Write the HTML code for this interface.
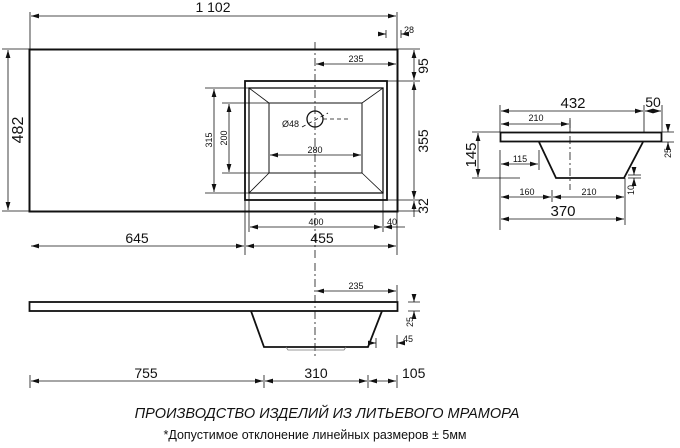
<!DOCTYPE html>
<html><head><meta charset="utf-8"><style>
html,body{margin:0;padding:0;background:#fff}
svg{display:block}
text{font-family:"Liberation Sans",sans-serif;fill:#111}
</style></head><body>
<svg width="680" height="448" viewBox="0 0 680 448" xmlns="http://www.w3.org/2000/svg">
<defs>
<marker id="a" viewBox="0 0 10 6" refX="10" refY="3" markerWidth="8" markerHeight="5" orient="auto-start-reverse" markerUnits="userSpaceOnUse"><path d="M0,0L10,3L0,6z" fill="#111"/></marker>
</defs>
<g stroke="#111" fill="none" stroke-width="0.8">
<rect x="29.5" y="49.5" width="368" height="162" stroke-width="2"/>
<rect x="245" y="81" width="142" height="119" stroke-width="1.8"/>
<rect x="249" y="88" width="134" height="105" stroke-width="1.3"/>
<rect x="269" y="103" width="93" height="70" stroke-width="1"/>
<path d="M249 88L269 103M383 88L362 103M249 193L269 173M383 193L362 173"/>
<circle cx="315" cy="119" r="8" stroke-width="1.3"/>
<path d="M302 127L328 113M323 119H348" stroke-dasharray="4 3"/>
<line x1="315" y1="42" x2="315" y2="260" stroke-dasharray="8 3 2 3"/>
<path d="M30 12V49M397 12V49M397 211V255M245 200V255M2 49H30M2 211H30M397 49H420M387 81H420M387 200H420M397 211H420"/>
<line x1="31" y1="16" x2="396" y2="16" marker-start="url(#a)" marker-end="url(#a)"/>
<path d="M386 30V38M401 30V38"/>
<line x1="380" y1="34" x2="386" y2="34" marker-end="url(#a)"/><line x1="407" y1="34" x2="401" y2="34" marker-end="url(#a)"/>
<line x1="8" y1="50" x2="8" y2="210" marker-start="url(#a)" marker-end="url(#a)"/>
<line x1="316" y1="64" x2="396" y2="64" marker-start="url(#a)" marker-end="url(#a)"/>
<line x1="414" y1="50" x2="414" y2="80" marker-start="url(#a)" marker-end="url(#a)"/>
<line x1="414" y1="82" x2="414" y2="199" marker-start="url(#a)" marker-end="url(#a)"/>
<line x1="414" y1="201" x2="414" y2="217" marker-start="url(#a)"/>
<path d="M205 88H249M205 193H249M222 103H269M222 173H269"/>
<line x1="214" y1="89" x2="214" y2="192" marker-start="url(#a)" marker-end="url(#a)"/>
<line x1="229" y1="104" x2="229" y2="172" marker-start="url(#a)" marker-end="url(#a)"/>
<line x1="270" y1="155" x2="361" y2="155" marker-start="url(#a)" marker-end="url(#a)"/>
<path d="M249 193V232M383 193V232"/>
<line x1="250" y1="227" x2="382" y2="227" marker-start="url(#a)" marker-end="url(#a)"/>
<line x1="384" y1="227" x2="405" y2="227" marker-start="url(#a)"/>
<line x1="31" y1="246" x2="244" y2="246" marker-start="url(#a)" marker-end="url(#a)"/>
<line x1="246" y1="246" x2="396" y2="246" marker-start="url(#a)" marker-end="url(#a)"/>
<line x1="315" y1="263" x2="315" y2="357" stroke-dasharray="8 3 2 3"/>
<rect x="29.5" y="302" width="368" height="9" stroke-width="1.8"/>
<path d="M251 311L264 347H368L382 311" stroke-width="1.8"/>
<path d="M286 347L288 350H344L346 347" stroke="#777"/>
<path d="M397 285V301"/>
<line x1="316" y1="291" x2="396" y2="291" marker-start="url(#a)" marker-end="url(#a)"/>
<path d="M408 302H420M408 311H420"/>
<line x1="414" y1="295" x2="414" y2="302" marker-end="url(#a)"/><line x1="414" y1="318" x2="414" y2="311" marker-end="url(#a)"/>
<path d="M397 335V348M376 338V348"/>
<line x1="370" y1="343" x2="376" y2="343" marker-end="url(#a)"/><line x1="403" y1="343" x2="397" y2="343" marker-end="url(#a)"/>
<path d="M30 375V388M264 375V388M368 375V388M397 375V388"/>
<line x1="31" y1="381" x2="263" y2="381" marker-start="url(#a)" marker-end="url(#a)"/>
<line x1="265" y1="381" x2="367" y2="381" marker-start="url(#a)" marker-end="url(#a)"/>
<line x1="369" y1="381" x2="396" y2="381" marker-start="url(#a)" marker-end="url(#a)"/>
<rect x="500.5" y="132.5" width="161" height="9" stroke-width="1.8"/>
<path d="M539 142L556 178H624L643 142" stroke-width="1.8"/>
<line x1="570" y1="120" x2="570" y2="190" stroke-dasharray="8 3 2 3"/>
<path d="M500 105V132M644 105V132M662 105V132M570 118V132"/>
<line x1="501" y1="111" x2="643" y2="111" marker-start="url(#a)" marker-end="url(#a)"/>
<line x1="645" y1="111" x2="661" y2="111" marker-start="url(#a)" marker-end="url(#a)"/>
<line x1="501" y1="124" x2="569" y2="124" marker-start="url(#a)" marker-end="url(#a)"/>
<path d="M472 132H500M472 178H520"/>
<line x1="478" y1="133" x2="478" y2="177" marker-start="url(#a)" marker-end="url(#a)"/>
<path d="M500 150V230M539 150V170M552 190V202M625 178V225"/>
<line x1="501" y1="164" x2="538" y2="164" marker-start="url(#a)" marker-end="url(#a)"/>
<line x1="501" y1="197" x2="551" y2="197" marker-start="url(#a)" marker-end="url(#a)"/>
<line x1="553" y1="197" x2="624" y2="197" marker-start="url(#a)" marker-end="url(#a)"/>
<line x1="501" y1="219" x2="624" y2="219" marker-start="url(#a)" marker-end="url(#a)"/>
<path d="M662 132H674M662 142H674"/>
<line x1="668" y1="126" x2="668" y2="132" marker-end="url(#a)"/><line x1="668" y1="148" x2="668" y2="142" marker-end="url(#a)"/>
<path d="M628 175H641M628 178H641"/>
<line x1="634" y1="168" x2="634" y2="175" marker-end="url(#a)"/><line x1="634" y1="185" x2="634" y2="178" marker-end="url(#a)"/>
</g>
<text x="213" y="12" font-size="14" text-anchor="middle">1 102</text>
<text x="404" y="33" font-size="9">28</text>
<text x="356" y="62" font-size="9" text-anchor="middle">235</text>
<text x="282" y="127" font-size="9">Ø48</text>
<text x="315" y="153" font-size="9" text-anchor="middle">280</text>
<text font-size="9" text-anchor="middle" transform="translate(212,140) rotate(-90)">315</text>
<text font-size="9" text-anchor="middle" transform="translate(227,138) rotate(-90)">200</text>
<text font-size="16" text-anchor="middle" transform="translate(23,130) rotate(-90)">482</text>
<text font-size="14" text-anchor="middle" transform="translate(428,66) rotate(-90)">95</text>
<text font-size="14" text-anchor="middle" transform="translate(428,141) rotate(-90)">355</text>
<text font-size="14" text-anchor="middle" transform="translate(428,206) rotate(-90)">32</text>
<text x="316" y="225" font-size="9" text-anchor="middle">400</text>
<text x="392" y="225" font-size="9" text-anchor="middle">40</text>
<text x="137" y="243" font-size="14" text-anchor="middle">645</text>
<text x="322" y="243" font-size="14" text-anchor="middle">455</text>
<text x="356" y="289" font-size="9" text-anchor="middle">235</text>
<text font-size="9" text-anchor="middle" transform="translate(413,322) rotate(-90)">25</text>
<text x="403" y="342" font-size="9">45</text>
<text x="146" y="378" font-size="14" text-anchor="middle">755</text>
<text x="316" y="378" font-size="14" text-anchor="middle">310</text>
<text x="402" y="378" font-size="14">105</text>
<text x="327" y="418" font-size="14.5" font-style="italic" text-anchor="middle">ПРОИЗВОДСТВО ИЗДЕЛИЙ ИЗ ЛИТЬЕВОГО МРАМОРА</text>
<text x="315" y="439" font-size="12.5" text-anchor="middle">*Допустимое отклонение линейных размеров  ± 5мм</text>
<text x="573" y="108" font-size="15" text-anchor="middle">432</text>
<text x="653" y="107" font-size="14" text-anchor="middle">50</text>
<text x="536" y="121" font-size="9" text-anchor="middle">210</text>
<text font-size="15" text-anchor="middle" transform="translate(476,155) rotate(-90)">145</text>
<text x="520" y="162" font-size="9" text-anchor="middle">115</text>
<text font-size="9" text-anchor="middle" transform="translate(671,153) rotate(-90)">25</text>
<text font-size="9" text-anchor="middle" transform="translate(634,190) rotate(-90)">10</text>
<text x="527" y="195" font-size="9" text-anchor="middle">160</text>
<text x="589" y="195" font-size="9" text-anchor="middle">210</text>
<text x="563" y="216" font-size="15" text-anchor="middle">370</text>
</svg>
</body></html>
